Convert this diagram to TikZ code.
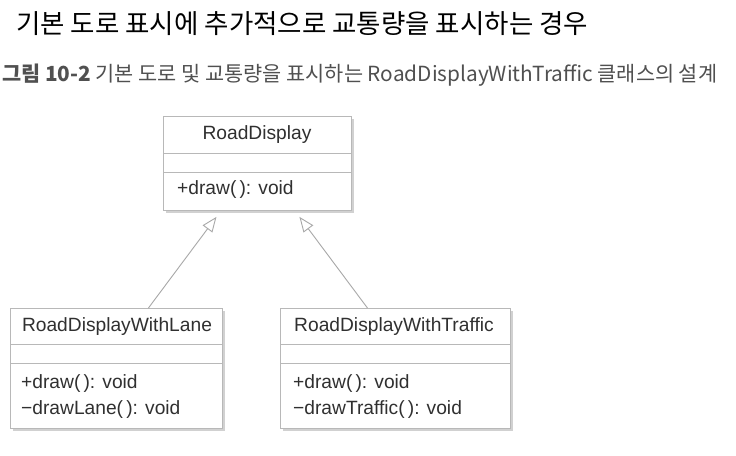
\documentclass[tikz,border=0pt]{standalone}
\usepackage{fontspec}
\setmainfont{Liberation Sans}
\newfontfamily\cjk{Noto Sans CJK KR}
\usetikzlibrary{arrows.meta,shadows}
\definecolor{boxline}{HTML}{B8B8B8}
\definecolor{arrline}{HTML}{A8A8A8}
\definecolor{txt}{HTML}{303030}
\definecolor{captxt}{HTML}{505050}
\tikzset{
  umlbox/.style={draw=boxline, line width=0.9pt, fill=white, anchor=north west, inner sep=0pt,
    drop shadow={shadow xshift=2.5pt, shadow yshift=-2.5pt, fill=black!18, opacity=1}},
  divline/.style={draw=boxline, line width=0.9pt},
  clsname/.style={font=\fontsize{19.2}{21}\selectfont, text=txt, inner sep=0pt},
  method/.style={font=\fontsize{19.2}{21}\selectfont, text=txt, inner sep=0pt, anchor=west},
  inherit/.style={draw=arrline, line width=0.9pt,
    -{Triangle[open, length=15pt, width=12pt, fill=white]}},
}
\begin{document}
\begin{tikzpicture}[x=1pt,y=-1pt]
\useasboundingbox[fill=white] (0,0) rectangle (736,455);

% title and caption
\node[anchor=west, inner sep=0pt, font=\cjk\fontsize{26.5}{28}\selectfont, text=black] (title) at (16,24)
  {기본 도로 표시에 추가적으로 교통량을 표시하는 경우};
\node[anchor=west, inner sep=0pt, font=\cjk\fontsize{20.8}{22}\selectfont, text=captxt] (caption) at (2,75)
  {{\bfseries 그림 10-2} 기본 도로 및 교통량을 표시하는 RoadDisplayWithTraffic 클래스의 설계};

% boxes
\node[umlbox, minimum width=188pt, minimum height=94pt] (rd) at (163,116) {};
\node[umlbox, minimum width=212pt, minimum height=120pt] (lane) at (10,308) {};
\node[umlbox, minimum width=230pt, minimum height=120pt] (traffic) at (280,308) {};

% dividers
\draw[divline] ([yshift=-37pt]rd.north west) -- ([yshift=-37pt]rd.north east);
\draw[divline] ([yshift=-56pt]rd.north west) -- ([yshift=-56pt]rd.north east);
\draw[divline] ([yshift=-36pt]lane.north west) -- ([yshift=-36pt]lane.north east);
\draw[divline] ([yshift=-55pt]lane.north west) -- ([yshift=-55pt]lane.north east);
\draw[divline] ([yshift=-36pt]traffic.north west) -- ([yshift=-36pt]traffic.north east);
\draw[divline] ([yshift=-55pt]traffic.north west) -- ([yshift=-55pt]traffic.north east);

% texts
\node[clsname] (rdname) at (257,135) {RoadDisplay};
\node[method] (rdm1) at (177,190) {+draw(\,): void};

\node[clsname] (lanename) at (117,327) {RoadDisplayWithLane};
\node[method] (lanem1) at (21,384) {+draw(\,): void};
\node[method] (lanem2) at (21,410) {−drawLane(\,): void};

\node[clsname] (trafficname) at (394,327) {RoadDisplayWithTraffic};
\node[method] (trafficm1) at (293,384) {+draw(\,): void};
\node[method] (trafficm2) at (293,410) {−drawTraffic(\,): void};

% inheritance
\draw[inherit] ([xshift=32pt]lane.north) -- ([shift={(-41,6)}]rd.south);
\draw[inherit] ([xshift=-28pt]traffic.north) -- ([shift={(42,6)}]rd.south);
\end{tikzpicture}
\end{document}
